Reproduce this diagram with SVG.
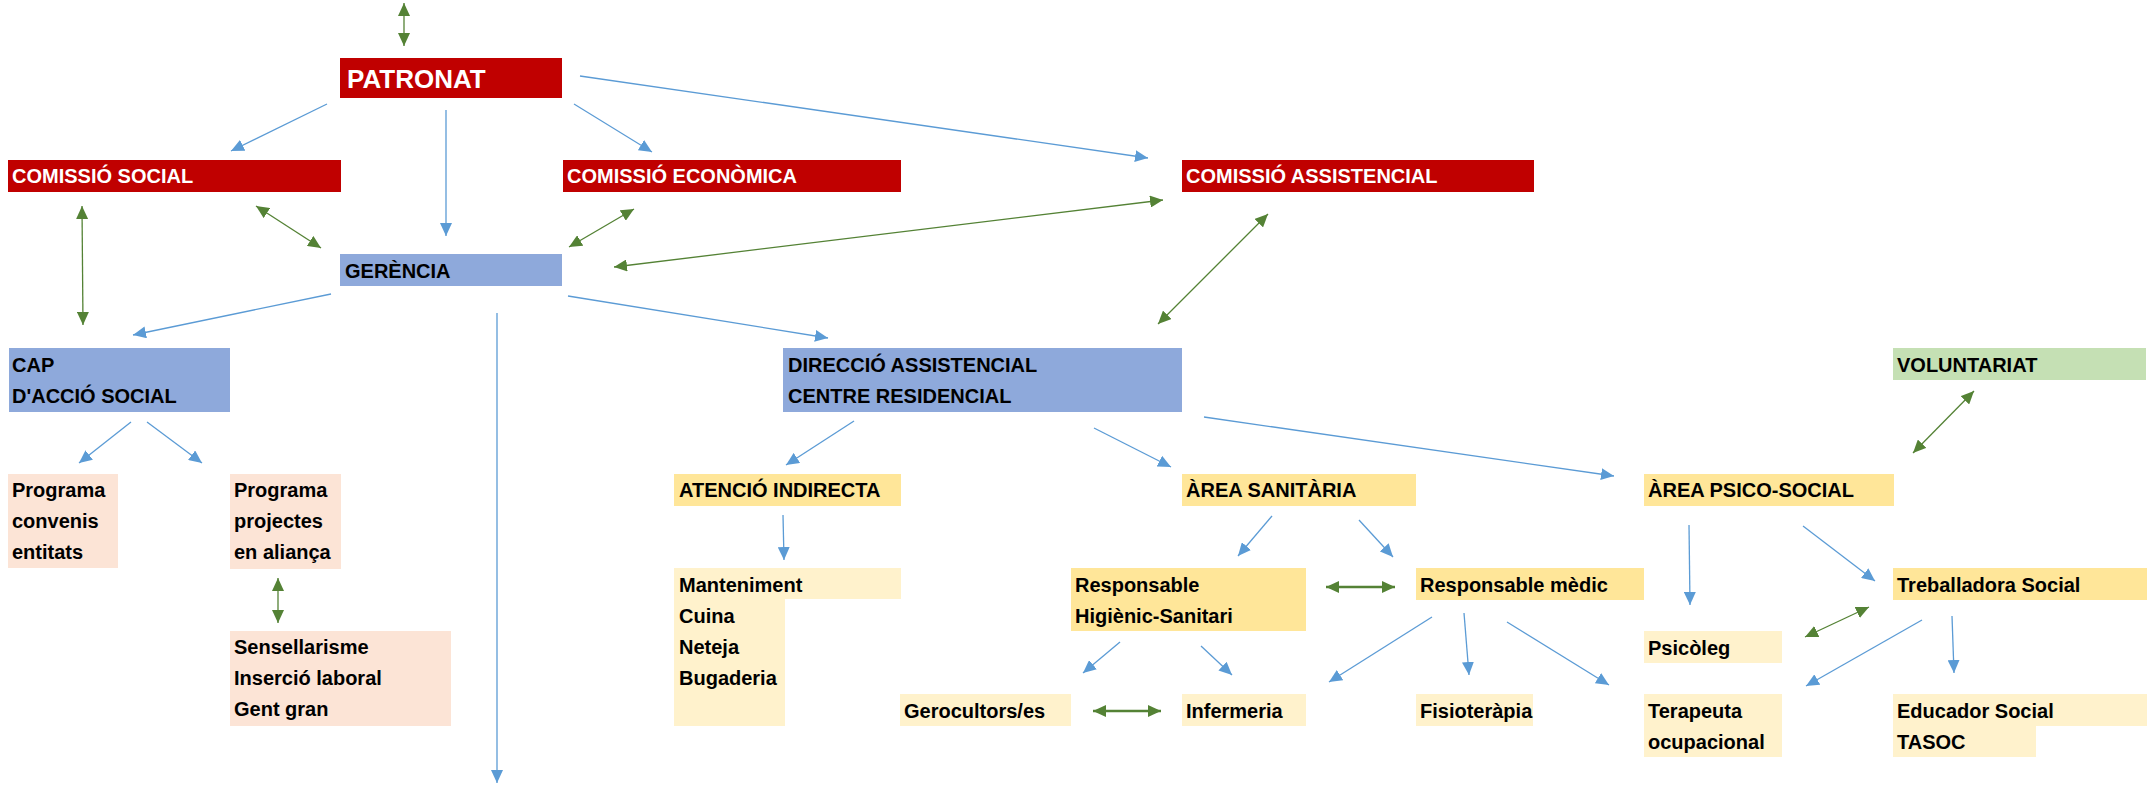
<svg xmlns="http://www.w3.org/2000/svg" width="2154" height="787" viewBox="0 0 2154 787">
<style>
text{font-family:"Liberation Sans",Arial,sans-serif;font-weight:bold;font-size:20px;fill:#000}
.w{fill:#fff}
.red{fill:#C00000}.blue{fill:#8EA9DB}.gold{fill:#FFE699}.light{fill:#FFF2CC}.pink{fill:#FCE4D6}.green{fill:#C5E0B4}
.cb{stroke:#5B9BD5;stroke-width:1.3;fill:none;marker-end:url(#ab)}
.cg{stroke:#548235;stroke-width:1.3;fill:none;marker-start:url(#ag);marker-end:url(#ag)}
.cg2{stroke-width:2.4}
</style>
<defs>
<marker id="ab" viewBox="0 0 13 12" refX="13" refY="6" markerWidth="13" markerHeight="12" markerUnits="userSpaceOnUse" orient="auto"><path d="M0,0L13,6L0,12z" fill="#5B9BD5"/></marker>
<marker id="ag" viewBox="0 0 13 12" refX="13" refY="6" markerWidth="13" markerHeight="12" markerUnits="userSpaceOnUse" orient="auto-start-reverse"><path d="M0,0L13,6L0,12z" fill="#548235"/></marker>
</defs>
<rect width="2154" height="787" fill="#fff"/>
<g id="connectors">
<line class="cb" x1="327" y1="104" x2="231" y2="151"/>
<line class="cb" x1="446" y1="110" x2="446" y2="236"/>
<line class="cb" x1="574" y1="104" x2="652" y2="152"/>
<line class="cb" x1="580" y1="76" x2="1148" y2="158"/>
<line class="cb" x1="331" y1="294" x2="133" y2="335"/>
<line class="cb" x1="497" y1="313" x2="497" y2="783"/>
<line class="cb" x1="568" y1="296" x2="828" y2="338"/>
<line class="cb" x1="131" y1="422" x2="79" y2="463"/>
<line class="cb" x1="147" y1="422" x2="202" y2="463"/>
<line class="cb" x1="854" y1="421" x2="786" y2="465"/>
<line class="cb" x1="1094" y1="428" x2="1171" y2="467"/>
<line class="cb" x1="1204" y1="417" x2="1614" y2="476"/>
<line class="cb" x1="783" y1="515" x2="784" y2="560"/>
<line class="cb" x1="1272" y1="516" x2="1238" y2="556"/>
<line class="cb" x1="1359" y1="520" x2="1393" y2="557"/>
<line class="cb" x1="1120" y1="642" x2="1083" y2="673"/>
<line class="cb" x1="1201" y1="646" x2="1232" y2="675"/>
<line class="cb" x1="1432" y1="617" x2="1329" y2="682"/>
<line class="cb" x1="1464" y1="613" x2="1469" y2="675"/>
<line class="cb" x1="1507" y1="622" x2="1609" y2="685"/>
<line class="cb" x1="1689" y1="525" x2="1690" y2="605"/>
<line class="cb" x1="1803" y1="526" x2="1875" y2="581"/>
<line class="cb" x1="1922" y1="620" x2="1806" y2="686"/>
<line class="cb" x1="1952" y1="616" x2="1954" y2="673"/>
<line class="cg" x1="404" y1="3" x2="404" y2="46"/>
<line class="cg" x1="256" y1="206" x2="321" y2="248"/>
<line class="cg" x1="82" y1="206" x2="83" y2="325"/>
<line class="cg" x1="634" y1="209" x2="569" y2="247"/>
<line class="cg" x1="1163" y1="200" x2="614" y2="267"/>
<line class="cg" x1="1268" y1="214" x2="1158" y2="324"/>
<line class="cg" x1="1974" y1="391" x2="1913" y2="453"/>
<line class="cg" x1="278" y1="578" x2="278" y2="623"/>
<line class="cg cg2" x1="1326" y1="587" x2="1395" y2="587"/>
<line class="cg cg2" x1="1093" y1="711" x2="1161" y2="711"/>
<line class="cg" x1="1869" y1="607" x2="1805" y2="637"/>
</g>
<g id="patronat"><rect class="red" x="340" y="58" width="222" height="40"/><text class="w" x="347" y="88" style="font-size:26px">PATRONAT</text></g>
<g id="comissio-social"><rect class="red" x="8" y="160" width="333" height="32"/><text class="w" x="12" y="183">COMISSIÓ SOCIAL</text></g>
<g id="comissio-economica"><rect class="red" x="563" y="160" width="338" height="32"/><text class="w" x="567" y="183">COMISSIÓ ECONÒMICA</text></g>
<g id="comissio-assistencial"><rect class="red" x="1182" y="160" width="352" height="32"/><text class="w" x="1186" y="183">COMISSIÓ ASSISTENCIAL</text></g>
<g id="gerencia"><rect class="blue" x="340" y="254" width="222" height="32"/><text x="345" y="278">GERÈNCIA</text></g>
<g id="cap-accio-social"><rect class="blue" x="9" y="348" width="221" height="64"/><text x="12" y="372">CAP</text><text x="12" y="403">D'ACCIÓ SOCIAL</text></g>
<g id="direccio"><rect class="blue" x="783" y="348" width="399" height="64"/><text x="788" y="372">DIRECCIÓ ASSISTENCIAL</text><text x="788" y="403">CENTRE RESIDENCIAL</text></g>
<g id="voluntariat"><rect class="green" x="1893" y="348" width="253" height="32"/><text x="1897" y="372">VOLUNTARIAT</text></g>
<g id="programa-convenis"><rect class="pink" x="8" y="474" width="110" height="94"/><text x="12" y="497">Programa</text><text x="12" y="528">convenis</text><text x="12" y="559">entitats</text></g>
<g id="programa-projectes"><rect class="pink" x="230" y="474" width="111" height="95"/><text x="234" y="497">Programa</text><text x="234" y="528">projectes</text><text x="234" y="559">en aliança</text></g>
<g id="sensellarisme"><rect class="pink" x="230" y="631" width="221" height="95"/><text x="234" y="654">Sensellarisme</text><text x="234" y="685">Inserció laboral</text><text x="234" y="716">Gent gran</text></g>
<g id="atencio-indirecta"><rect class="gold" x="674" y="474" width="227" height="32"/><text x="679" y="497">ATENCIÓ INDIRECTA</text></g>
<g id="manteniment"><path class="light" d="M674,568H901V599H785V726H674z"/><text x="679" y="592">Manteniment</text><text x="679" y="623">Cuina</text><text x="679" y="654">Neteja</text><text x="679" y="685">Bugaderia</text></g>
<g id="area-sanitaria"><rect class="gold" x="1182" y="474" width="234" height="32"/><text x="1186" y="497">ÀREA SANITÀRIA</text></g>
<g id="area-psico-social"><rect class="gold" x="1644" y="474" width="250" height="32"/><text x="1648" y="497">ÀREA PSICO-SOCIAL</text></g>
<g id="responsable-higienic"><rect class="gold" x="1071" y="568" width="235" height="63"/><text x="1075" y="592">Responsable</text><text x="1075" y="623">Higiènic-Sanitari</text></g>
<g id="responsable-medic"><rect class="gold" x="1416" y="568" width="228" height="32"/><text x="1420" y="592">Responsable mèdic</text></g>
<g id="treballadora-social"><rect class="gold" x="1893" y="568" width="254" height="32"/><text x="1897" y="592">Treballadora Social</text></g>
<g id="psicoleg"><rect class="light" x="1644" y="631" width="138" height="32"/><text x="1648" y="655">Psicòleg</text></g>
<g id="gerocultors"><rect class="light" x="900" y="694" width="171" height="32"/><text x="904" y="718">Gerocultors/es</text></g>
<g id="infermeria"><rect class="light" x="1182" y="694" width="124" height="32"/><text x="1186" y="718">Infermeria</text></g>
<g id="fisioterapia"><rect class="light" x="1416" y="694" width="117" height="32"/><text x="1420" y="718">Fisioteràpia</text></g>
<g id="terapeuta"><rect class="light" x="1644" y="694" width="138" height="63"/><text x="1648" y="718">Terapeuta</text><text x="1648" y="749">ocupacional</text></g>
<g id="educador"><path class="light" d="M1893,694H2147V726H2036V757H1893z"/><text x="1897" y="718">Educador Social</text><text x="1897" y="749">TASOC</text></g>
</svg>
